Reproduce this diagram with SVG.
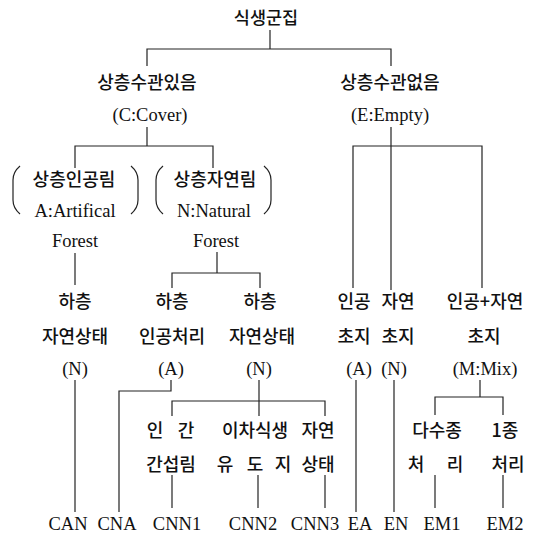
<svg xmlns="http://www.w3.org/2000/svg" width="543" height="535" viewBox="0 0 543 535">
<style>
text{font-family:"Liberation Serif","Noto Sans CJK KR",serif;font-size:18.5px;fill:#111;text-anchor:middle}
.k{font-family:"Noto Sans CJK KR","Liberation Serif",sans-serif;font-size:18px;font-weight:500}
.c line,.c polyline,.c path{stroke:#222;stroke-width:1.2;fill:none}
</style>
<rect width="543" height="535" fill="#fff"/>
<g class="c" id="connectors">
<line x1="270" y1="30" x2="270" y2="49"/>
<polyline points="147,66 147,49 391,49 391,66"/>
<line x1="147" y1="127" x2="147" y2="146"/>
<polyline points="75,168 75,146 213,146 213,168"/>
<line x1="391" y1="127" x2="391" y2="290"/>
<polyline points="353,288 353,146 482,146 482,288"/>
<line x1="75" y1="253" x2="75" y2="285"/>
<line x1="217" y1="252" x2="217" y2="273"/>
<polyline points="172,288 172,273 260,273 260,288"/>
<line x1="75" y1="380" x2="75" y2="512"/>
<polyline points="171,380 171,391 119,391 119,512"/>
<line x1="259" y1="380" x2="259" y2="416"/>
<polyline points="172,416 172,401 325,401 325,416"/>
<line x1="172" y1="475" x2="172" y2="508"/>
<line x1="258" y1="475" x2="258" y2="508"/>
<line x1="325" y1="475" x2="325" y2="508"/>
<line x1="356" y1="380" x2="356" y2="512"/>
<line x1="394" y1="380" x2="394" y2="512"/>
<line x1="480" y1="380" x2="480" y2="397"/>
<polyline points="435,415 435,397 503,397 503,415"/>
<line x1="435" y1="475" x2="435" y2="508"/>
<line x1="503" y1="475" x2="503" y2="508"/>
<path d="M20,166 Q13,172 13,180 L13,200 Q13,208 20,214"/>
<path d="M131,166 Q138,172 138,180 L138,200 Q138,208 131,214"/>
<path d="M163,166 Q156,172 156,180 L156,200 Q156,208 163,214"/>
<path d="M264,166 Q271,172 271,180 L271,200 Q271,208 264,214"/>
</g>
<g id="root"><text class="k" x="266" y="24" style="font-size:17.5px">식생군집</text></g>
<g id="cover"><text class="k" x="147" y="89">상층수관있음</text><text x="150" y="121">(C:Cover)</text></g>
<g id="empty"><text class="k" x="390" y="89">상층수관없음</text><text x="390" y="121">(E:Empty)</text></g>
<g id="artificial-forest"><text class="k" x="74" y="186">상층인공림</text><text x="75" y="217">A:Artifical</text><text x="75" y="247">Forest</text></g>
<g id="natural-forest"><text class="k" x="215" y="186">상층자연림</text><text x="214" y="217">N:Natural</text><text x="216" y="247">Forest</text></g>
<g id="an"><text class="k" x="75" y="308">하층</text><text class="k" x="75" y="343">자연상태</text><text x="75" y="375">(N)</text></g>
<g id="na"><text class="k" x="172" y="308">하층</text><text class="k" x="172" y="343">인공처리</text><text x="171" y="375">(A)</text></g>
<g id="nn"><text class="k" x="260" y="308">하층</text><text class="k" x="262" y="343">자연상태</text><text x="259" y="375">(N)</text></g>
<g id="ea"><text class="k" x="354" y="308">인공</text><text class="k" x="354" y="343">초지</text><text x="359" y="375">(A)</text></g>
<g id="en"><text class="k" x="398" y="308">자연</text><text class="k" x="398" y="343">초지</text><text x="394" y="375">(N)</text></g>
<g id="em"><text class="k" x="485" y="308">인공+자연</text><text class="k" x="484" y="343">초지</text><text x="485" y="375">(M:Mix)</text></g>
<g id="nn1"><text class="k" x="155" y="437">인</text><text class="k" x="186" y="437">간</text><text class="k" x="171" y="471">간섭림</text></g>
<g id="nn2"><text class="k" x="255" y="437">이차식생</text><text class="k" x="225" y="471">유</text><text class="k" x="255" y="471">도</text><text class="k" x="283" y="471">지</text></g>
<g id="nn3"><text class="k" x="318" y="437">자연</text><text class="k" x="318" y="471">상태</text></g>
<g id="em1"><text class="k" x="437" y="437">다수종</text><text class="k" x="416" y="471">처</text><text class="k" x="455" y="471">리</text></g>
<g id="em2"><text class="k" x="505" y="437">1종</text><text class="k" x="508" y="471">처리</text></g>
<g id="leaves">
<text x="68" y="530">CAN</text><text x="117" y="530">CNA</text><text x="177" y="530">CNN1</text><text x="253" y="530">CNN2</text><text x="315" y="530">CNN3</text><text x="360" y="530">EA</text><text x="396" y="530">EN</text><text x="442" y="530">EM1</text><text x="505" y="530">EM2</text>
</g>
</svg>
